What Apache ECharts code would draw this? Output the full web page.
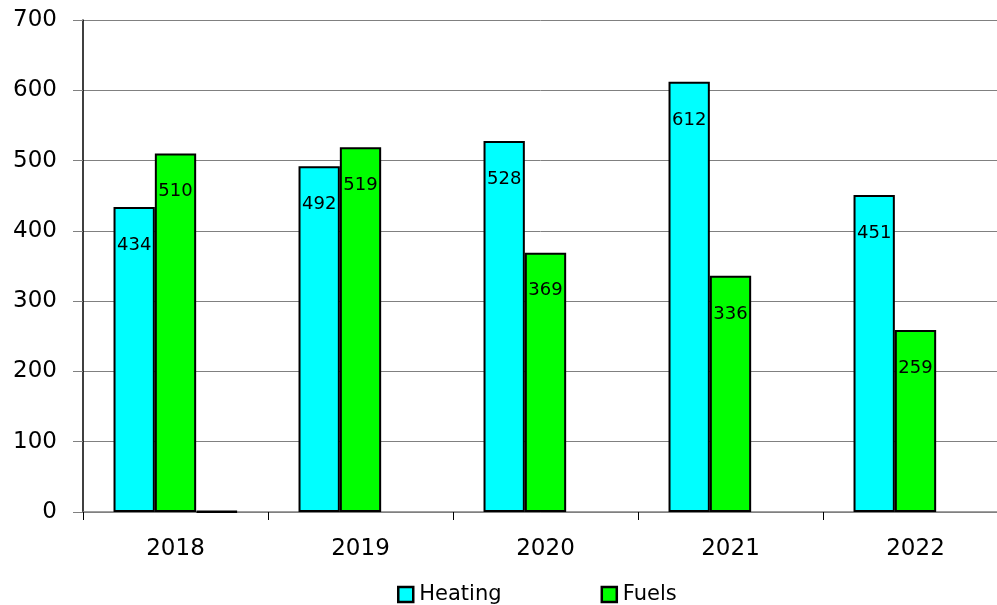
<!DOCTYPE html>
<html>
<head>
<meta charset="utf-8">
<script src="https://cdn.jsdelivr.net/npm/echarts@6/dist/echarts.min.js"></script>
<style>html,body{margin:0;padding:0;background:#fff}#c{width:997px;height:605px}</style>
</head>
<body>
<div id="c"></div>
<script>
var categories = ['2018', '2019', '2020', '2021', '2022'];
var heating = [434, 492, 528, 612, 451];
var fuels = [510, 519, 369, 336, 259];
var other = [1, null, null, null, null];
var yTicks = [0, 100, 200, 300, 400, 500, 600, 700];

var FONT = 'DejaVu Sans';
var chart = echarts.init(document.getElementById('c'));
var labelCfg = {
  show: true, position: 'insideTop', distance: 29,
  color: '#000', fontFamily: FONT, fontSize: 18
};
chart.setOption({
  animation: false,
  textStyle: { fontFamily: FONT },
  grid: { left: 83, width: 925, top: 20, height: 492, outerBoundsMode: 'none', containLabel: false },
  legend: {
    data: ['Heating', 'Fuels'],
    left: 392, top: 579,
    itemWidth: 15, itemHeight: 15, itemGap: 99,
    icon: 'rect',
    itemStyle: { borderColor: '#000', borderWidth: 2.5 },
    textStyle: { fontFamily: FONT, fontSize: 21, color: '#000', padding: [0, 0, 0, 1] }
  },
  xAxis: {
    type: 'category', data: categories,
    axisLine: { lineStyle: { color: '#808080', width: 1.5 } },
    axisTick: { show: true, length: 8, lineStyle: { color: '#000' }, alignWithLabel: false },
    axisLabel: { fontFamily: FONT, fontSize: 23, color: '#000', margin: 26 }
  },
  yAxis: {
    type: 'value', min: yTicks[0], max: yTicks[yTicks.length - 1], interval: 100,
    axisLine: { show: true, lineStyle: { color: '#000', width: 1.5 } },
    axisTick: { show: true, length: 10, lineStyle: { color: '#808080' } },
    splitLine: { lineStyle: { color: '#808080', width: 1 } },
    axisLabel: { fontFamily: FONT, fontSize: 23, color: '#000', margin: 26 }
  },
  series: [
    { name: 'Heating', type: 'bar', data: heating, barGap: '0%', barCategoryGap: '33%',
      itemStyle: { color: '#00FFFF', borderColor: '#000', borderWidth: 2 }, label: labelCfg },
    { name: 'Fuels', type: 'bar', data: fuels,
      itemStyle: { color: '#00FF00', borderColor: '#000', borderWidth: 2 }, label: labelCfg },
    { name: 'Other', type: 'bar', data: other,
      itemStyle: { color: '#000', borderColor: '#000', borderWidth: 2.5 } }
  ]
});
</script>
</body>
</html>
